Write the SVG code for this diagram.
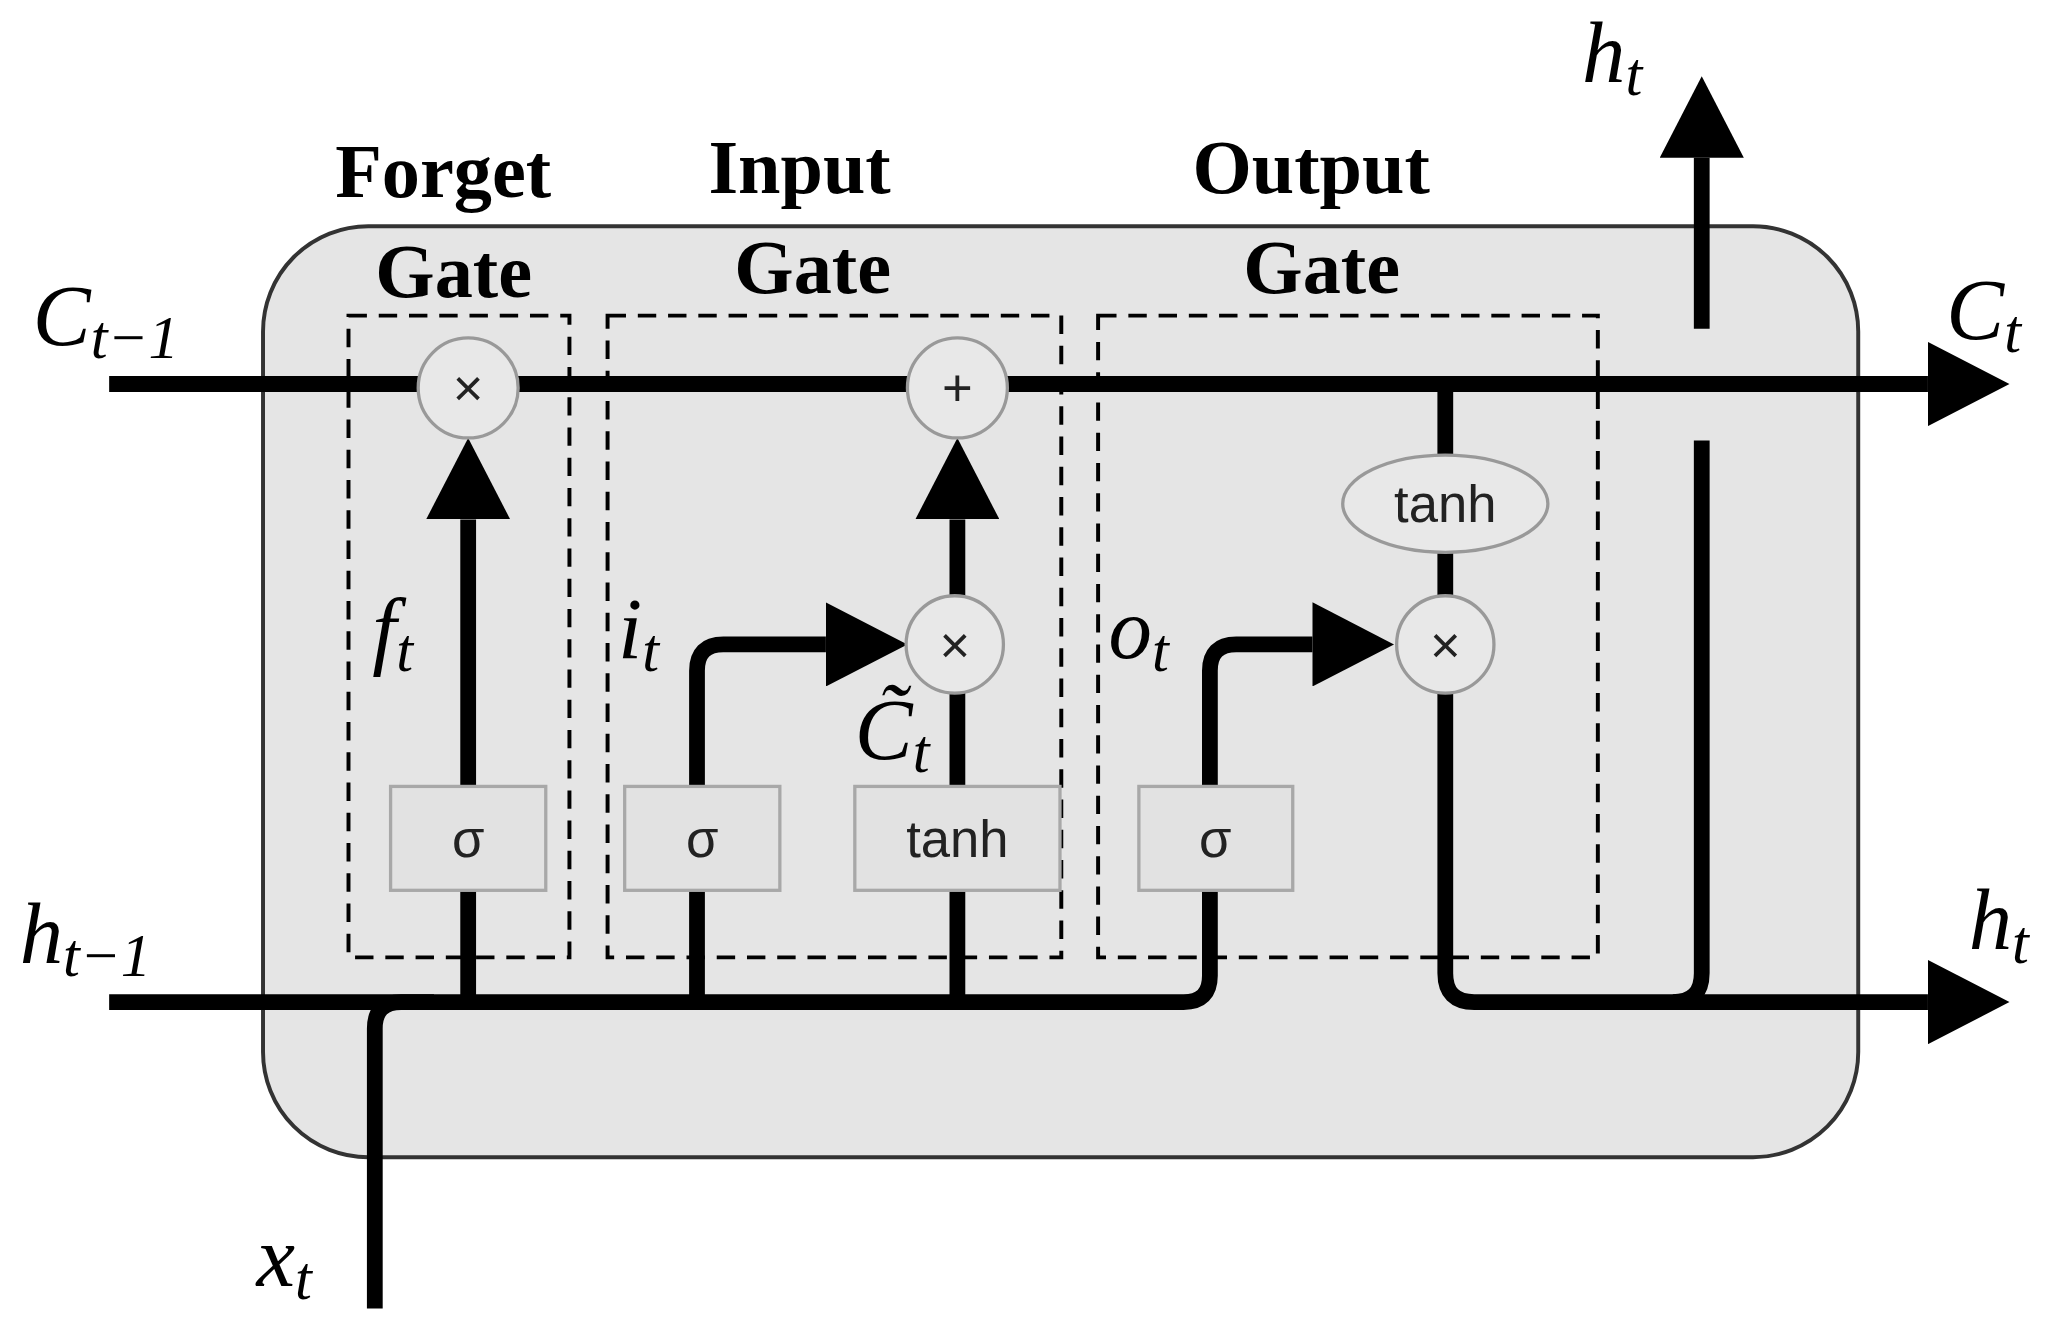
<svg xmlns="http://www.w3.org/2000/svg" width="2062" height="1325" viewBox="0 0 2062 1325">
<style>
.ln{fill:none;stroke:#000;stroke-width:12}
.ds{fill:none;stroke:#000;stroke-width:3;stroke-dasharray:14 9}
.op{fill:#e8e8e8;stroke:#999;stroke-width:2.5}
.bx{fill:#e2e2e2;stroke:#a8a8a8;stroke-width:2.5}
.ot{font-family:'Liberation Sans',Arial,sans-serif;font-size:40px;fill:#222;text-anchor:middle}
.gt{font-family:'Liberation Serif','Times New Roman',serif;font-weight:bold;font-size:58px;text-anchor:middle}
.mt{font-family:'Liberation Serif','Times New Roman',serif;font-style:italic;font-size:66px}
.sb{font-size:46px}
</style>
<defs>
<marker id="ah" markerUnits="userSpaceOnUse" markerWidth="64" markerHeight="64" refX="0" refY="32" orient="auto"><path d="M0 0L62 32L0 64Z"/></marker>
</defs>
<rect width="2062" height="1325" fill="#fff"/>
<g transform="scale(1.3151)">
<rect id="cell" x="200" y="172" width="1213" height="708" rx="80" fill="#e5e5e5" stroke="#333" stroke-width="3"/>
<g id="gates">
<rect class="ds" x="265" y="240" width="168" height="488"/>
<rect class="ds" x="462" y="240" width="345" height="488"/>
<rect class="ds" x="835" y="240" width="380" height="488"/>
<text class="gt" x="337" y="150">Forget</text><text class="gt" x="345" y="226">Gate</text>
<text class="gt" x="608" y="147">Input</text><text class="gt" x="618" y="223">Gate</text>
<text class="gt" x="997" y="147">Output</text><text class="gt" x="1005" y="223">Gate</text>
</g>
<g id="connectors">
<path class="ln" d="M83 292H1466" marker-end="url(#ah)"/>
<path class="ln" d="M356 762V395" marker-end="url(#ah)"/>
<path class="ln" d="M728 762V395" marker-end="url(#ah)"/>
<path class="ln" d="M530 762V510Q530 490 550 490H628" marker-end="url(#ah)"/>
<path class="ln" d="M83 762H900Q920 762 920 742V510Q920 490 940 490H998" marker-end="url(#ah)"/>
<path class="ln" d="M285 995V782Q285 762 305 762H330"/>
<path class="ln" d="M1099 292V490"/>
<path class="ln" d="M1099 490V740Q1099 762 1121 762H1466" marker-end="url(#ah)"/>
<path class="ln" d="M1272 762Q1294 762 1294 740V335"/>
<path class="ln" d="M1294 250V120" marker-end="url(#ah)"/>
</g>
<g id="ops">
<circle class="op" cx="356" cy="295" r="38"/><text class="ot" x="356" y="309">×</text>
<circle class="op" cx="728" cy="295" r="38"/><text class="ot" x="728" y="309">+</text>
<circle class="op" cx="726" cy="490" r="37"/><text class="ot" x="726" y="504">×</text>
<circle class="op" cx="1099" cy="490" r="37"/><text class="ot" x="1099" y="504">×</text>
<ellipse class="op" cx="1099" cy="383" rx="78" ry="37"/><text class="ot" x="1099" y="397">tanh</text>
</g>
<g id="layers">
<rect class="bx" x="297" y="598" width="118" height="79"/><text class="ot" x="356" y="652">σ</text>
<rect class="bx" x="475" y="598" width="118" height="79"/><text class="ot" x="534" y="652">σ</text>
<rect class="bx" x="650" y="598" width="156" height="79"/><text class="ot" x="728" y="652">tanh</text>
<rect class="bx" x="866" y="598" width="117" height="79"/><text class="ot" x="924" y="652">σ</text>
</g>
<g id="labels">
<text class="mt" x="25" y="262">C<tspan class="sb" dy="10">t−1</tspan></text>
<text class="mt" x="1480" y="258">C<tspan class="sb" dy="10">t</tspan></text>
<text class="mt" x="1203" y="62">h<tspan class="sb" dy="10">t</tspan></text>
<text class="mt" x="1497" y="722">h<tspan class="sb" dy="10">t</tspan></text>
<text class="mt" x="15" y="732">h<tspan class="sb" dy="10">t−1</tspan></text>
<text class="mt" x="195" y="978">x<tspan class="sb" dy="10">t</tspan></text>
<text class="mt" x="283" y="500">f<tspan class="sb" dy="10">t</tspan></text>
<text class="mt" x="470" y="500">i<tspan class="sb" dy="10">t</tspan></text>
<text class="mt" x="650" y="577">C̃<tspan class="sb" dy="10">t</tspan></text>
<text class="mt" x="843" y="500">o<tspan class="sb" dy="10">t</tspan></text>
</g>
</g>
</svg>
